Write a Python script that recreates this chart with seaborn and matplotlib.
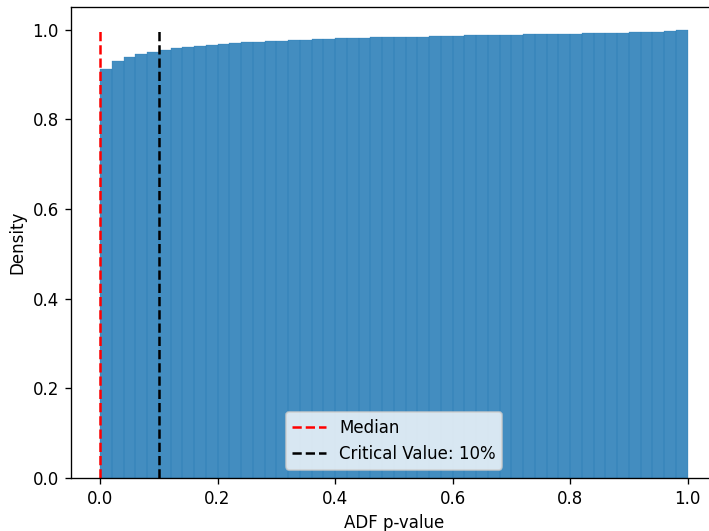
import numpy as np
import matplotlib
matplotlib.use("Agg")
import matplotlib.pyplot as plt
import seaborn as sns

# cumulative density (50 bins of width 0.02 on [0, 1])
n_bins = 50
cdf_values = [0.913, 0.930, 0.939, 0.945, 0.950, 0.954, 0.959, 0.961, 0.963, 0.965,
              0.968, 0.970, 0.972, 0.973, 0.974, 0.975, 0.977, 0.977, 0.979, 0.979,
              0.981, 0.981, 0.981, 0.983, 0.983, 0.983, 0.983, 0.983, 0.985, 0.985,
              0.985, 0.988, 0.988, 0.988, 0.988, 0.988, 0.989, 0.989, 0.989, 0.989,
              0.989, 0.992, 0.992, 0.992, 0.992, 0.994, 0.994, 0.994, 0.997, 1.000]
median_p = 0.0
critical_value = 0.1

bin_edges = np.linspace(0, 1, n_bins + 1)
bin_centers = (bin_edges[:-1] + bin_edges[1:]) / 2
bin_weights = np.diff(np.concatenate([[0.0], cdf_values]))

fig, ax = plt.subplots(figsize=(709 / 120, 531 / 120), dpi=120)
plt.subplots_adjust(left=0.0996, right=1.0115, bottom=0.0998, top=0.9866)

sns.histplot(x=bin_centers, weights=bin_weights, bins=n_bins, binrange=(0, 1),
             stat="density", cumulative=True, ax=ax,
             color="#1f77b4", alpha=0.84, edgecolor="#1f77b4", linewidth=0.15)
ax.vlines(median_p, 0, 1, colors="red", linestyles="dashed", label="Median")
ax.vlines(critical_value, 0, 1, colors="black", linestyles="dashed",
          label="Critical Value: 10%")
ax.set_xlabel("ADF p-value")
ax.set_ylabel("Density")
ax.legend(loc="lower center")

fig.savefig("out.png", dpi=120)
